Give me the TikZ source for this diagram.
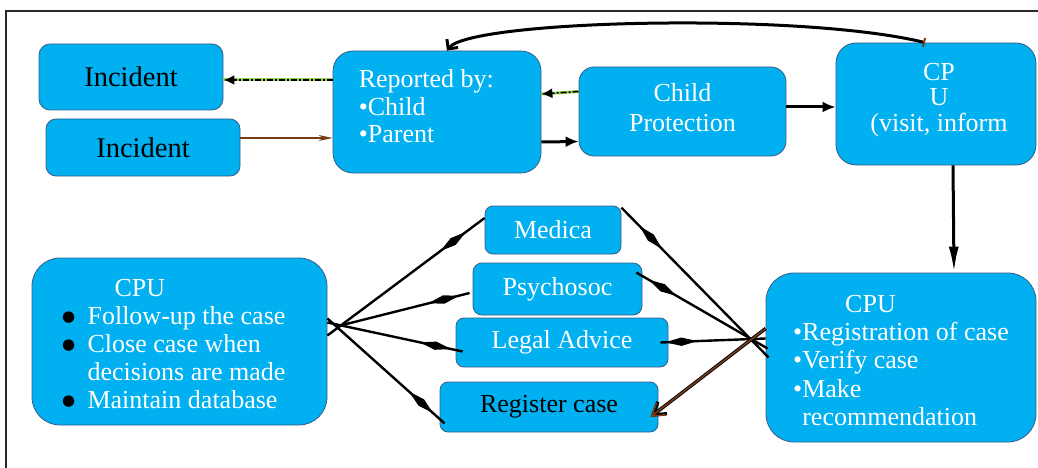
\documentclass[tikz,border=0pt]{standalone}
\usepackage{fontspec}
\setmainfont{Liberation Serif}
\newfontfamily\dotfont{DejaVu Sans}
\usetikzlibrary{arrows.meta,decorations.markings}

\definecolor{boxfill}{RGB}{0,176,240}
\definecolor{boxline}{RGB}{56,93,138}
\definecolor{linkgreen}{RGB}{146,208,80}
\definecolor{arrowbrown}{RGB}{120,60,20}
\definecolor{framegray}{RGB}{40,40,40}

\newcommand{\listdot}{\makebox[10pt]{\raisebox{3pt}{\textcolor{black}{\dotfont\fontsize{15}{15}\selectfont ●}}}}

\begin{document}
\begin{tikzpicture}[
  x=1pt, y=-1pt,
  font=\fontsize{26}{28}\selectfont,
  cpbox/.style={rectangle, draw=boxline, fill=boxfill, line width=0.8pt,
    text=white, align=center, inner sep=0pt},
  darktext/.style={text=black},
  boxtext/.style={text=white, inner sep=0pt},
  mainlink/.style={-{Latex[length=13pt,width=11pt]}, line width=3pt},
  thinlink/.style={-{Stealth[length=14pt,width=6pt]}, line width=1.4pt, draw=arrowbrown},
  dashlink/.style={-{Latex[length=11pt,width=10pt]}, line width=2.4pt,
    dash pattern=on 6pt off 2pt on 2pt off 2pt,
    preaction={draw=linkgreen, solid, -, line width=3pt}},
  spoke/.style={line width=2.4pt,
    decoration={markings, mark=at position 0.8 with
      {\fill (-16pt,0pt) -- (0pt,4.2pt) -- (16pt,0pt) -- (0pt,-4.2pt) -- cycle;}},
    postaction={decorate}},
  brownlink/.style={-{Straight Barb[length=12pt,width=15pt]}, line width=1.6pt, draw=arrowbrown,
    preaction={draw=black, line width=3.4pt}},
  curvelink/.style={{Bar[width=9pt,line width=2pt,color=arrowbrown]}-{Straight Barb[length=7pt,width=14pt]},
    line width=3pt}
]
  \useasboundingbox (0,0) rectangle (1038,468);
  \draw[line width=1.6pt, framegray] (6,468) -- (6,11) -- (1038,11);

  % top row
  \node[cpbox, darktext, minimum width=184pt, minimum height=66pt, rounded corners=11pt,
    font=\fontsize{28.5}{30}\selectfont] (inc1) at (131,77) {Incident};
  \node[cpbox, darktext, minimum width=194pt, minimum height=57pt, rounded corners=10pt,
    font=\fontsize{28.5}{30}\selectfont] (inc2) at (143,147.5) {Incident};
  \node[cpbox, minimum width=208pt, minimum height=122pt, rounded corners=20pt] (rep) at (437,112) {};
  \node[boxtext, anchor=north west, align=left, font=\fontsize{26}{27.5}\selectfont]
    (repText) at ([xshift=26pt,yshift=-19pt]rep.north west) {Reported by:\\•Child\\•Parent};
  \node[cpbox, minimum width=207pt, minimum height=89pt, rounded corners=15pt] (cp) at (682.5,111.5) {};
  \node[boxtext, anchor=north, align=center, font=\fontsize{26}{29.5}\selectfont]
    (cpText) at ([yshift=-17pt]cp.north) {Child\\Protection};
  \node[cpbox, minimum width=200pt, minimum height=122pt, rounded corners=20pt] (cpu1) at (936,104) {};
  \node[boxtext, anchor=north, align=center, font=\fontsize{26}{25.5}\selectfont]
    (cpu1Text) at ([xshift=3pt,yshift=-20pt]cpu1.north) {CP\\U\\(visit, inform};

  % services
  \node[cpbox, minimum width=136pt, minimum height=48pt, rounded corners=8pt] (med) at (553,230) {Medica};
  \node[cpbox, minimum width=169pt, minimum height=52pt, rounded corners=9pt] (psy) at (557.5,289) {Psychosoc};
  \node[cpbox, minimum width=212pt, minimum height=49pt, rounded corners=8pt] (legal) at (562,342.5) {Legal Advice};
  \node[cpbox, darktext, minimum width=218pt, minimum height=50pt, rounded corners=8pt] (reg) at (549,407) {Register case};

  % CPU boxes
  \node[cpbox, minimum width=295pt, minimum height=167pt, rounded corners=28pt] (cpuL) at (179.5,341.5)
    {\begin{tabular}{@{}c@{\hspace{14pt}}l@{\hspace{10pt}}}
       \rule{0pt}{30pt} & \hspace{27pt}CPU\\
       \listdot & Follow-up the case\\
       \listdot & Close case when\\
       & decisions are made\\
       \listdot & Maintain database
     \end{tabular}};
  \node[cpbox, minimum width=270pt, minimum height=169pt, rounded corners=28pt] (cpuR) at (901,357.5)
    {\begin{tabular}{@{}l@{}}
       \rule{0pt}{31pt}\hspace{52pt}CPU\\
       •Registration of case\\[0.5pt]
       •Verify case\\[0.5pt]
       •Make\\[0.5pt]
       \phantom{•}recommendation
     \end{tabular}};

  % links in the top row
  \draw[dashlink] ([yshift=32pt]rep.west) -- ([yshift=-3pt]inc1.east);
  \draw[thinlink] ([yshift=9.5pt]inc2.east) -- ([yshift=-26pt]rep.west);
  \draw[mainlink] ([yshift=-30pt]rep.east) -- ([yshift=-30pt]cp.west);
  \draw[dashlink, line width=1.5pt] ([yshift=20pt]cp.west) -- ([yshift=18pt]rep.east);
  \draw[mainlink] ([yshift=4.5pt]cp.east) -- ([yshift=-3pt]cpu1.west);
  \draw[curvelink] ([xshift=-11pt]cpu1.north) .. controls (800,12) and (470,20) .. ([xshift=10pt]rep.north);
  \draw[line width=3pt, -{Latex[length=26pt,width=10pt]}] ([xshift=17pt]cpu1.south) -- ([xshift=53pt]cpuR.north);

  % spokes from the left CPU
  \draw[spoke] ([yshift=6pt]cpuL.east) -- ([yshift=12pt]med.west);
  \draw[spoke] ([xshift=13pt,yshift=16pt]cpuL.east) -- ([xshift=-3pt,yshift=-4pt]psy.west);
  \draw[spoke] ([yshift=19pt]cpuL.east) -- ([xshift=7pt,yshift=-9pt]legal.west);
  \draw[spoke] ([yshift=23pt]cpuL.east) -- ([xshift=5pt,yshift=9pt]reg.south west);

  % spokes from the right CPU
  \draw[spoke] ([xshift=3pt]cpuR.west) -- ([yshift=-2pt]med.north east);
  \draw[spoke] ([xshift=2pt,yshift=9pt]cpuR.west) -- ([xshift=-6pt,yshift=-10pt]psy.north east);
  \draw[spoke] ([yshift=19pt]cpuR.west) -- ([xshift=-8pt]legal.east);
  \draw[brownlink] ([yshift=29pt]cpuR.west) -- ([xshift=-8pt,yshift=-10pt]reg.east);
\end{tikzpicture}
\end{document}
